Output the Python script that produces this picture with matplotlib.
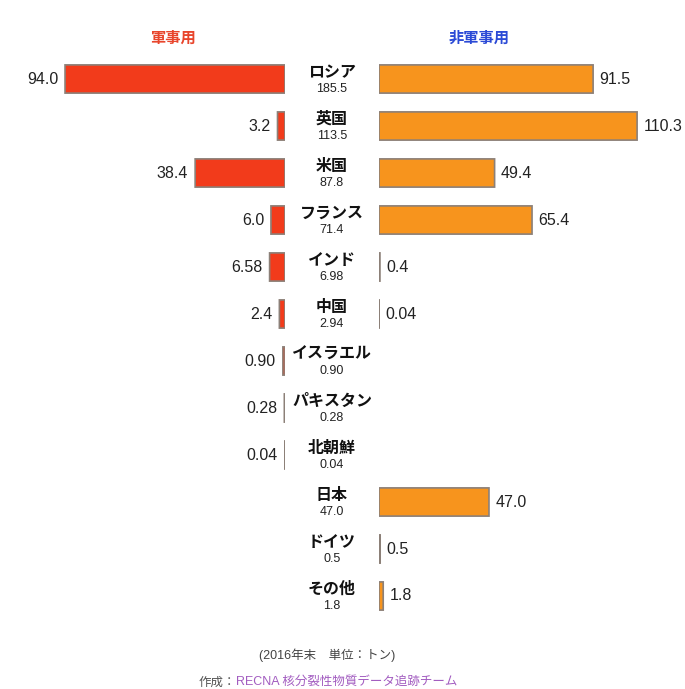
import matplotlib.pyplot as plt
import matplotlib.transforms as mtransforms
import numpy as np

plt.rcParams['font.family'] = ['Noto Sans CJK JP', 'DejaVu Sans']
NUM = ['Liberation Sans', 'DejaVu Sans']

countries = ['ロシア', '英国', '米国', 'フランス', 'インド', '中国',
             'イスラエル', 'パキスタン', '北朝鮮', '日本', 'ドイツ', 'その他']
totals = ['185.5', '113.5', '87.8', '71.4', '6.98', '2.94',
          '0.90', '0.28', '0.04', '47.0', '0.5', '1.8']
military = [94.0, 3.2, 38.4, 6.0, 6.58, 2.4, 0.90, 0.28, 0.04,
            np.nan, np.nan, np.nan]
military_labels = ['94.0', '3.2', '38.4', '6.0', '6.58', '2.4',
                   '0.90', '0.28', '0.04', '', '', '']
civil = [91.5, 110.3, 49.4, 65.4, 0.4, 0.04, np.nan, np.nan, np.nan,
         47.0, 0.5, 1.8]
civil_labels = ['91.5', '110.3', '49.4', '65.4', '0.4', '0.04', '', '', '',
                '47.0', '0.5', '1.8']

W, H = 685, 689
fig = plt.figure(figsize=(W / 100, H / 100), dpi=100)
fig.patch.set_facecolor('white')

scale = 2.34  # pixels per ton
row0, step = 79, 47.0
ylim = (((H - row0) / step), -row0 / step)

axl = fig.add_axes([0, 0, 285 / W, 1])
axr = fig.add_axes([379 / W, 0, 306 / W, 1])
axl.set_xlim(285 / scale, 0)
axr.set_xlim(0, 306 / scale)
for ax in (axl, axr):
    ax.set_ylim(*ylim)
    ax.axis('off')

y = np.arange(len(countries))
red = '#f23b1b'
orange = '#f7941d'
axl.barh(y, military, height=0.6, color=red, edgecolor='#8c8078',
         linewidth=1.2, snap=False)
axr.barh(y, civil, height=0.6, color=orange, edgecolor='#8c8078',
         linewidth=1.2, snap=False)

for i in y:
    if military_labels[i]:
        axl.annotate(military_labels[i], (military[i], i), xytext=(-5, 0),
                     textcoords='offset points', ha='right', va='center',
                     fontsize=11.5, color='#222222', family=NUM)
    if civil_labels[i]:
        axr.annotate(civil_labels[i], (civil[i], i), xytext=(4.5, 0),
                     textcoords='offset points', ha='left', va='center',
                     fontsize=11.5, color='#222222', family=NUM)

tr = mtransforms.blended_transform_factory(fig.transFigure, axl.transData)
cx = 332 / W
for i in y:
    fig.text(cx, i - 0.15, countries[i], transform=tr, ha='center', va='center',
             fontsize=11.5, fontweight='bold', color='#111111')
    fig.text(cx, i + 0.22, totals[i], transform=tr, ha='center', va='center',
             fontsize=9, color='#222222', family=NUM)

fig.text(173 / W, 1 - 38 / H, '軍事用', ha='center', va='center',
         fontsize=11, fontweight='bold', color='#e8452c')
fig.text(479 / W, 1 - 38 / H, '非軍事用', ha='center', va='center',
         fontsize=11, fontweight='bold', color='#2b4ad6')

fig.text(327 / W, 1 - 655 / H, '(2016年末　単位：トン)', ha='center', va='center',
         fontsize=9, color='#444444', family=NUM + ['Noto Sans CJK JP'])
fig.text(236 / W, 1 - 682 / H, '作成：', ha='right', va='center',
         fontsize=9, color='#555555')
fig.text(236 / W, 1 - 682 / H, 'RECNA 核分裂性物質データ追跡チーム', ha='left',
         va='center', fontsize=9, color='#a25cc0',
         family=NUM + ['Noto Sans CJK JP'])

fig.savefig('out.png', dpi=100, facecolor='white')
